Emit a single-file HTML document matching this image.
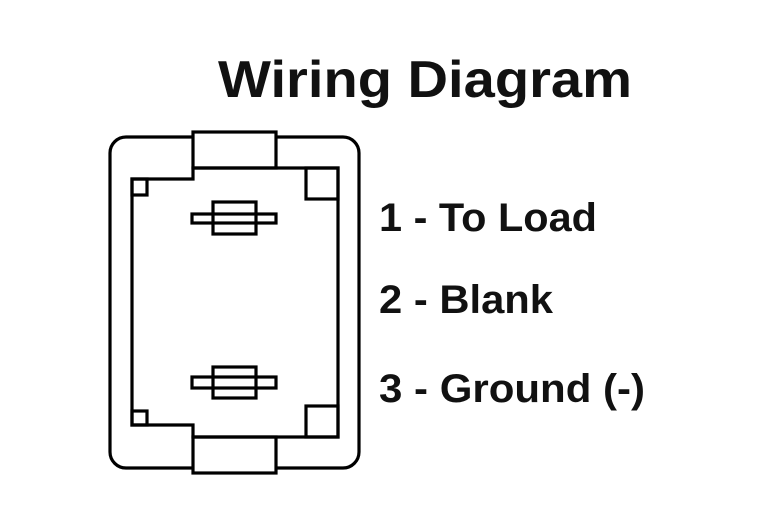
<!DOCTYPE html>
<html><head><meta charset="utf-8"><style>html,body{margin:0;padding:0;background:#fff}svg{display:block}</style></head>
<body>
<svg width="768" height="525" viewBox="0 0 768 525" xmlns="http://www.w3.org/2000/svg">
<rect width="768" height="525" fill="#fff"/>
<g font-family="Liberation Sans, Arial, sans-serif" font-weight="bold" fill="#111">
<text x="218" y="97" font-size="52" textLength="414" lengthAdjust="spacingAndGlyphs">Wiring Diagram</text>
<text x="379" y="231" font-size="40" textLength="218" lengthAdjust="spacingAndGlyphs">1 - To Load</text>
<text x="379" y="313" font-size="40" textLength="174" lengthAdjust="spacingAndGlyphs">2 - Blank</text>
<text x="379" y="402" font-size="40" textLength="266" lengthAdjust="spacingAndGlyphs">3 - Ground (-)</text>
</g>
<g fill="none" stroke="#000" stroke-width="3.2">
<rect x="110" y="137" width="249" height="331" rx="16"/>
<rect x="193" y="132" width="83" height="36" fill="#fff"/>
<rect x="193" y="437" width="83" height="36" fill="#fff"/>
<polygon points="132,179 193,179 193,168 338,168 338,437 193,437 193,425 132,425"/>
<rect x="132" y="179" width="15" height="16"/>
<rect x="132" y="411" width="15" height="14"/>
<rect x="306" y="168" width="32" height="31"/>
<rect x="306" y="406" width="32" height="31"/>
<rect x="213" y="202" width="43" height="32"/>
<rect x="192" y="214" width="84" height="9"/>
<rect x="213" y="367" width="43" height="31"/>
<rect x="192" y="377" width="84" height="11"/>
</g>
</svg>
</body></html>
